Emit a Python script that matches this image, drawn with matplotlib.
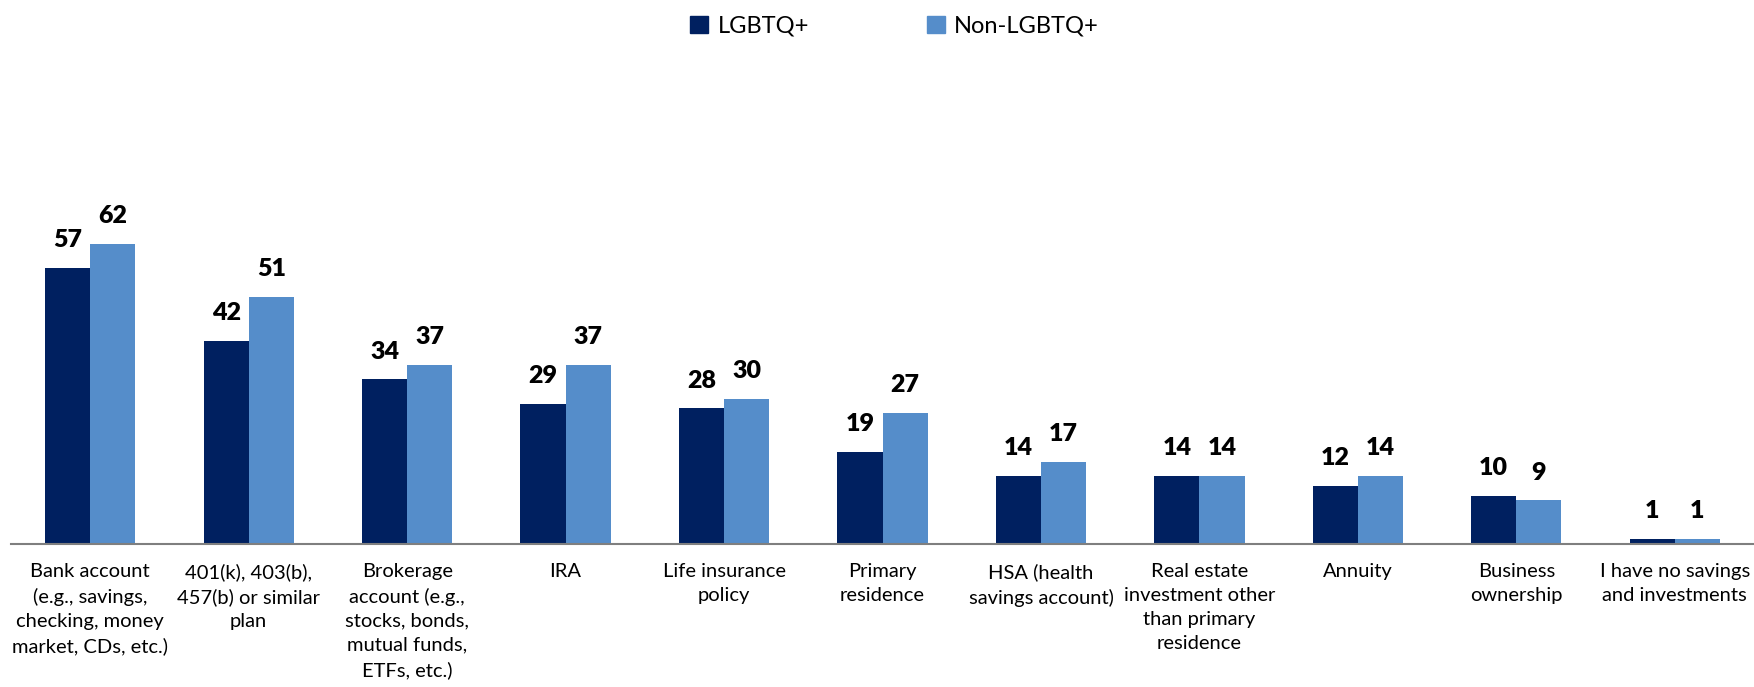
import numpy as np
import matplotlib
matplotlib.use("Agg")
import matplotlib.pyplot as plt
from matplotlib.patches import Patch

plt.rcParams['font.family'] = ['Lato', 'DejaVu Sans']

categories = [
    "Bank account\n(e.g., savings,\nchecking, money\nmarket, CDs, etc.)",
    "401(k), 403(b),\n457(b) or similar\nplan",
    "Brokerage\naccount (e.g.,\nstocks, bonds,\nmutual funds,\nETFs, etc.)",
    "IRA",
    "Life insurance\npolicy",
    "Primary\nresidence",
    "HSA (health\nsavings account)",
    "Real estate\ninvestment other\nthan primary\nresidence",
    "Annuity",
    "Business\nownership",
    "I have no savings\nand investments",
]
lgbtq = [57, 42, 34, 29, 28, 19, 14, 14, 12, 10, 1]
non_lgbtq = [62, 51, 37, 37, 30, 27, 17, 14, 14, 9, 1]
series_names = ["LGBTQ+", "Non-LGBTQ+"]
colors = ["#002060", "#558DCA"]

fig = plt.figure(figsize=(17.54, 6.87), dpi=100)
ax = fig.add_axes([11 / 1754, (687 - 544) / 687, 1 - 11 / 1754, 444 / 687])

x = np.arange(len(categories))
w = 0.285
b1 = ax.bar(x - w / 2, lgbtq, w, color=colors[0])
b2 = ax.bar(x + w / 2, non_lgbtq, w, color=colors[1])

for bars, vals in ((b1, lgbtq), (b2, non_lgbtq)):
    for r, v in zip(bars, vals):
        ax.annotate(str(v), xy=(r.get_x() + r.get_width() / 2, v),
                    xytext=(0, 20), textcoords='offset points',
                    ha='center', va='center', fontsize=18, fontweight='heavy')

ax.set_xlim(-0.5, 10.5)
ax.set_ylim(0, 91.7)
ax.set_xticks(x)
ax.set_xticklabels(categories, fontsize=14.5, linespacing=1.49, va='top')
ax.tick_params(axis='x', length=0, pad=14)
ax.set_yticks([])
for s in ['top', 'right', 'left']:
    ax.spines[s].set_visible(False)
ax.spines['bottom'].set_color('#7f7f7f')
ax.spines['bottom'].set_linewidth(1.5)

handles = [Patch(color=c, label=n) for c, n in zip(colors, series_names)]
fig.legend(handles=handles, loc='upper center', ncol=2, frameon=False,
           fontsize=17, handlelength=0.75, handleheight=0.75,
           handletextpad=0.4, columnspacing=5.0, bbox_to_anchor=(0.51, 1.008))

fig.savefig("out.png", dpi=100)
